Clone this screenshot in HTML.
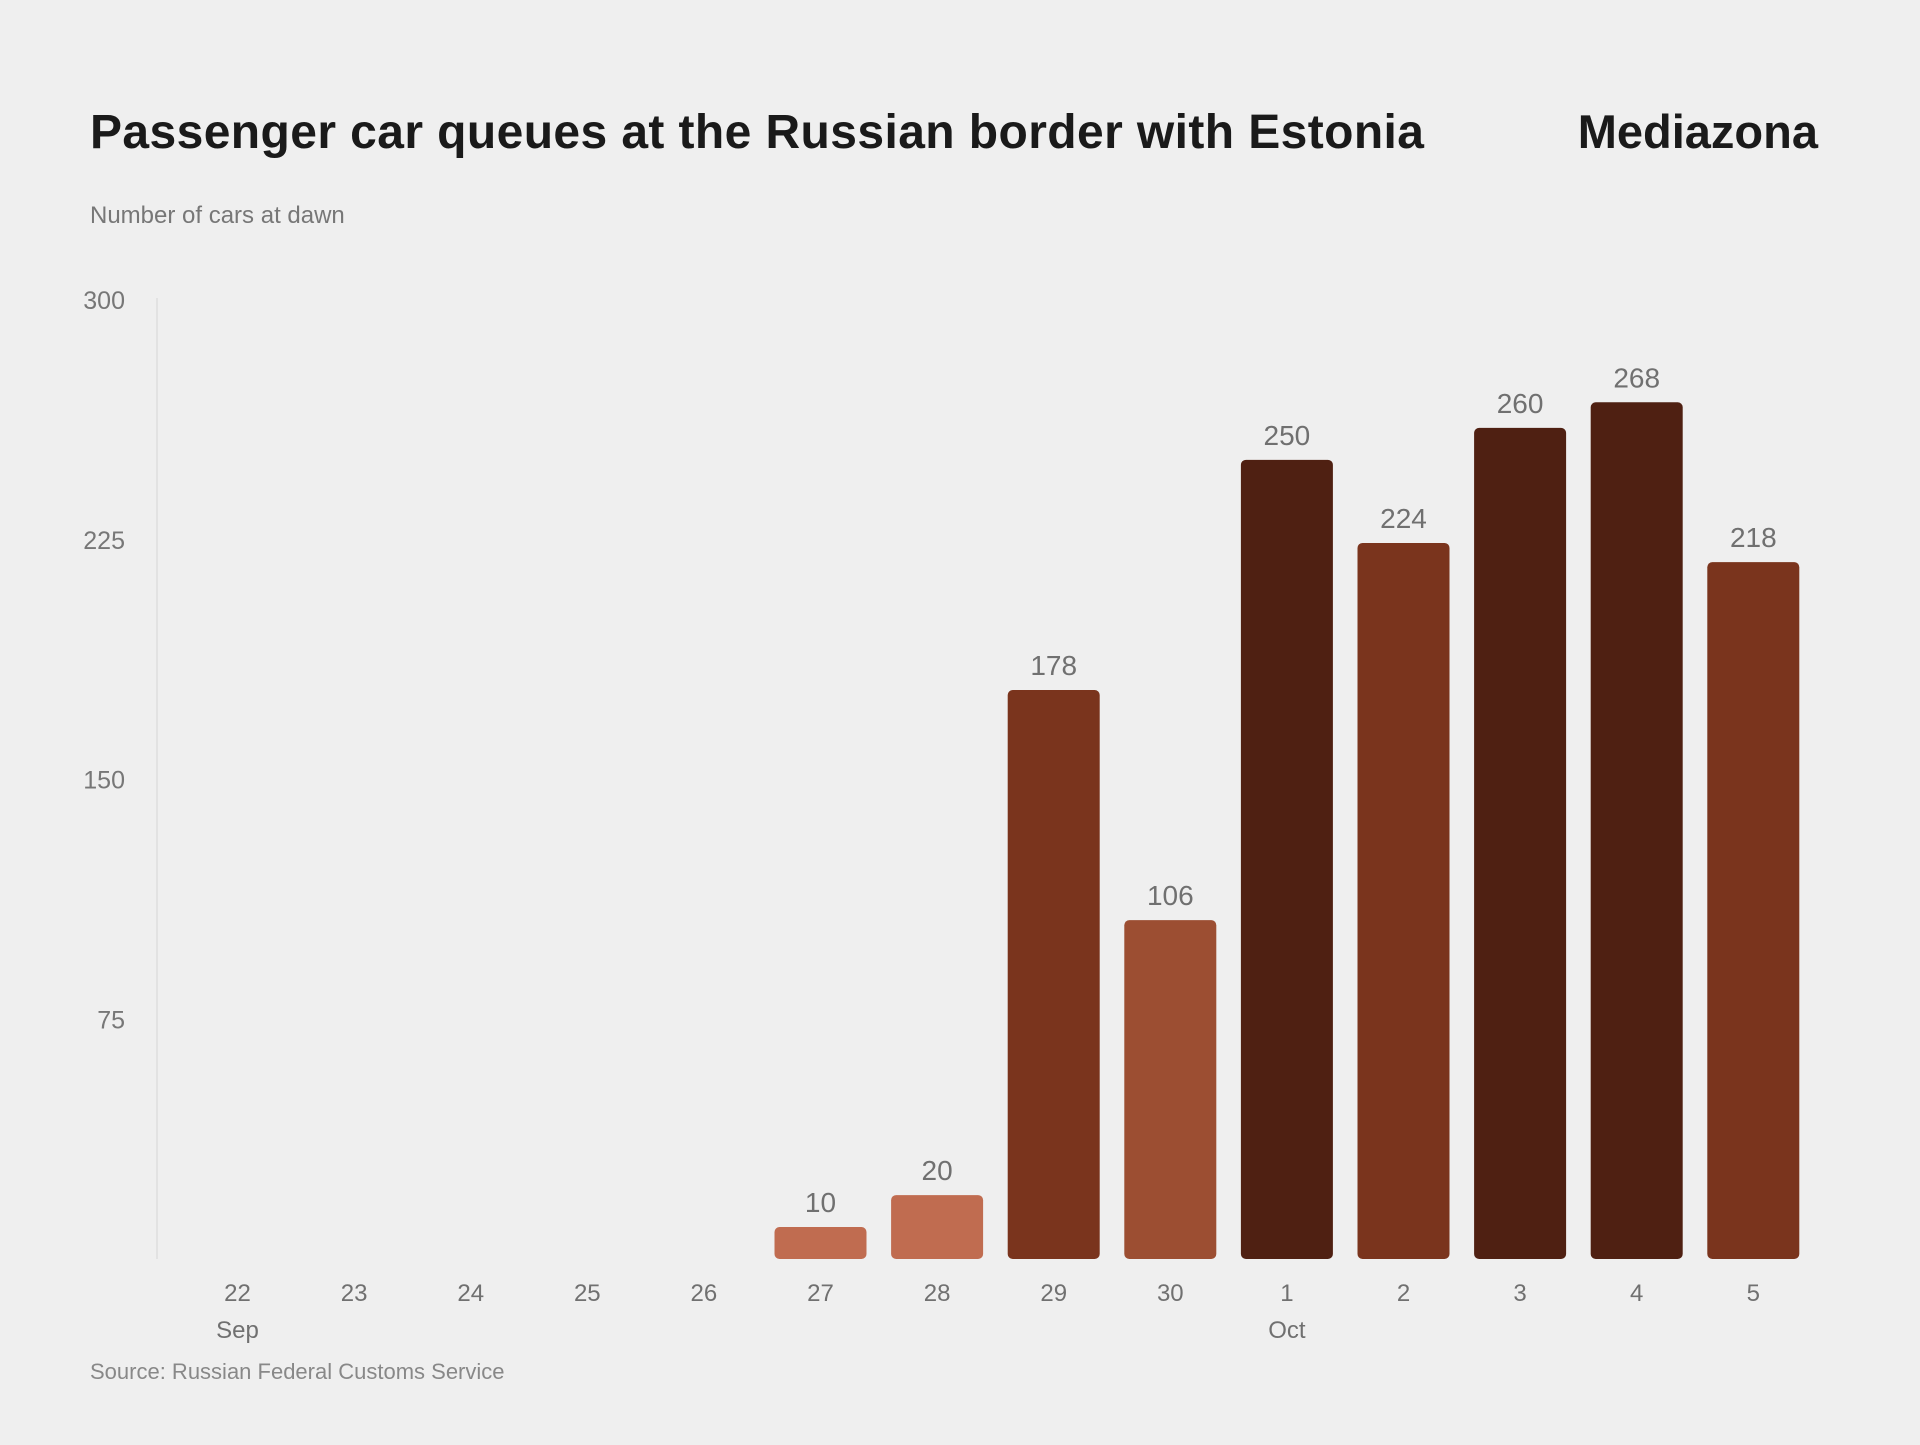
<!DOCTYPE html>
<html><head><meta charset="utf-8">
<style>
html,body{margin:0;padding:0;background:#efefef;}
body{width:1920px;height:1440px;overflow:hidden;font-family:"Liberation Sans",sans-serif;}
svg text{font-family:"Liberation Sans",sans-serif;}
</style></head>
<body>
<svg id="chart" width="1920" height="1440" viewBox="0 0 1920 1440" xmlns="http://www.w3.org/2000/svg">
<rect width="1920" height="1440" fill="#efefef"/>
<text x="90" y="148" font-size="48" font-weight="bold" letter-spacing="0.4" fill="#1a1a1a">Passenger car queues at the Russian border with Estonia</text>
<text x="1818" y="148" font-size="47" font-weight="bold" fill="#1a1a1a" text-anchor="end">Mediazona</text>
<text x="90" y="223" font-size="24" fill="#777">Number of cars at dawn</text>
<line x1="157" y1="298" x2="157" y2="1259" stroke="#e2e2e2" stroke-width="2"/>
<g id="yticks"></g>
<g id="bars"></g>
<g id="xticks"></g>
<text x="90" y="1379" font-size="22" fill="#888">Source: Russian Federal Customs Service</text>
</svg>
<script>
const categories = ["22","23","24","25","26","27","28","29","30","1","2","3","4","5"];
const monthLabels = ["Sep","","","","","","","","","Oct","","","",""];
const values = [null,null,null,null,null,10,20,178,106,250,224,260,268,218];
const yTicks = [75,150,225,300];

const NS="http://www.w3.org/2000/svg";
const y0=1259, yTop=300, yMax=300;
function yScale(v){return y0-(v/yMax)*(y0-yTop);}
const x0=237.5, step=116.6, bw=92;
function xScale(i){return x0+i*step;}
function colorFor(v){ if(v<50) return "#c06c50"; if(v<150) return "#9c4e32"; if(v<240) return "#7a341d"; return "#4f2012"; }
function mk(tag,attrs,parent,txt){const e=document.createElementNS(NS,tag);for(const k in attrs)e.setAttribute(k,attrs[k]);if(txt!==undefined)e.textContent=txt;parent.appendChild(e);return e;}

const yg=document.getElementById('yticks');
yTicks.forEach(t=>{
  const e=mk('text',{x:125,y:yScale(t)+9,'font-size':25,fill:'#777','text-anchor':'end'},yg,String(t));
  
  
});
const bg=document.getElementById('bars');
values.forEach((v,i)=>{
  if(v===null) return;
  const top=yScale(v);
  const r=mk('rect',{x:xScale(i)-bw/2,y:top,width:bw,height:y0-top,rx:5,fill:colorFor(v)},bg);
  
  
  const l=mk('text',{x:xScale(i),y:top-15,'font-size':28,fill:'#707070','text-anchor':'middle'},bg,String(v));
  
  
});
const xg=document.getElementById('xticks');
categories.forEach((c,i)=>{
  const t=mk('text',{x:xScale(i),y:1301,'font-size':24,fill:'#707070','text-anchor':'middle'},xg,c);
  
  
  if(monthLabels[i]){
    const m=mk('text',{x:xScale(i),y:1338,'font-size':24,fill:'#707070','text-anchor':'middle'},xg,monthLabels[i]);
    
    
  }
});
</script>
</body></html>
